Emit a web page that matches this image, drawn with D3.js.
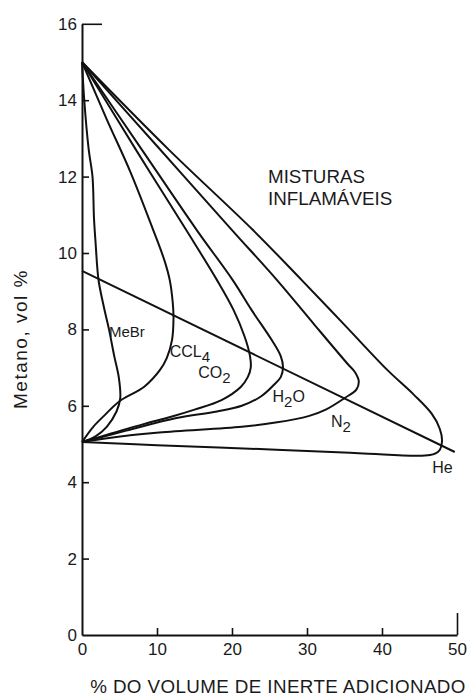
<!DOCTYPE html>
<html>
<head>
<meta charset="utf-8">
<script src="https://cdn.jsdelivr.net/npm/d3@7"></script>
<style>
  html, body { margin: 0; padding: 0; background: #fff; }
  text { font-family: "Liberation Sans", Arial, sans-serif; fill: #1a1a1a; }
</style>
</head>
<body>
<div id="chart"></div>
<script>
// flammability envelopes: [% inert added, methane vol %], apex -> nose -> lower limit
const meBr = [[0,15],[0.3,14.0],[0.9,12.7],[1.4,12.0],[1.6,10.9],[1.8,10.3],[2.2,9.3],[2.9,8.6],[3.6,8.0],[4.3,7.3],[4.9,6.75],[5.1,6.2],[4.6,5.85],[3.3,5.45],[1.8,5.2],[0,5.05]];
const ccl4 = [[0,15],[3.3,13.5],[6.5,12.1],[9.5,10.6],[11.0,9.8],[11.7,9.29],[12.1,8.7],[12.2,8.3],[12.0,7.72],[11.3,7.25],[10.4,6.94],[8.3,6.5],[5.0,6.12],[3.0,5.75],[1.5,5.45],[0,5.05]];
const co2 = [[0,15],[7.2,12.7],[13.9,10.6],[18.0,9.29],[20.2,8.51],[21.7,7.8],[22.4,7.3],[22.5,7.0],[22.1,6.75],[21.2,6.5],[18.6,6.15],[15.0,5.9],[12.0,5.72],[8.2,5.52],[4.0,5.28],[0,5.05]];
const h2o = [[0,15],[8,12.7],[15.3,10.6],[20.1,9.29],[22.6,8.51],[25.3,7.72],[26.5,7.3],[26.8,7.0],[26.5,6.75],[25.6,6.55],[23.9,6.25],[21.3,6.0],[18,5.85],[12.6,5.68],[5.9,5.35],[0,5.05]];
const n2 = [[0,15],[10,12.8],[20.0,10.6],[26.0,9.29],[31.0,8.12],[35.4,7.1],[36.4,6.88],[36.9,6.65],[36.6,6.43],[35.0,6.2],[32.5,5.9],[30.2,5.73],[25.8,5.56],[21.3,5.45],[10.3,5.3],[3.6,5.16],[0,5.05]];
const he = [[0,15],[11.6,12.7],[22.8,10.6],[29.3,9.29],[35.0,8.12],[40.7,6.94],[44.2,6.3],[46.6,5.8],[47.7,5.4],[48.0,5.08],[47.6,4.82],[46.4,4.71],[36.9,4.76],[25.9,4.85],[10,4.97],[0,5.05]];
// stoichiometric line
const stoich = [[0,9.53],[49.7,4.79]];

const xTicks = [0,10,20,30,40,50];
const yTicks = [0,2,4,6,8,10,12,14,16];

// curve labels: [main, subscript, after, x, y]
const curveLabels = [
  ["MeBr", "", "", 3.6, 7.8],
  ["CCL", "4", "", 11.7, 7.28],
  ["CO", "2", "", 15.5, 6.73],
  ["H", "2", "O", 25.4, 6.1],
  ["N", "2", "", 33.2, 5.45],
  ["He", "", "", 46.7, 4.24]
];

const width = 468, height = 696;

const svg = d3.select("#chart").append("svg")
  .attr("width", width)
  .attr("height", height);

svg.append("rect").attr("width", width).attr("height", height).attr("fill", "#fff");

const x = d3.scaleLinear().domain([0, 50]).range([82, 457]);
const y = d3.scaleLinear().domain([0, 16]).range([635, 23.8]);

// axes
const yAxis = d3.axisLeft(y).tickValues(yTicks).tickSizeInner(-7).tickSizeOuter(0).tickPadding(5);
const xAxis = d3.axisBottom(x).tickValues(xTicks).tickSizeInner(-7).tickSizeOuter(0).tickPadding(8);

const gy = svg.append("g").attr("transform", `translate(${x(0)},0)`).call(yAxis);
const gx = svg.append("g").attr("transform", `translate(0,${y(0)})`).call(xAxis);

[gx, gy].forEach(g => {
  g.select(".domain").attr("stroke", "#111").attr("stroke-width", 2);
  g.selectAll(".tick line").attr("stroke", "#111").attr("stroke-width", 1.6);
  g.selectAll(".tick text")
    .style("font-family", '"Liberation Sans", Arial, sans-serif')
    .style("font-size", "17px")
    .attr("fill", "#1a1a1a");
});
// end caps: long tick at 16 and 50, no tick at origin
gy.selectAll(".tick").filter(d => d === 16).select("line").attr("x2", 20);
gy.selectAll(".tick").filter(d => d === 0).select("line").remove();
gx.selectAll(".tick").filter(d => d === 50).select("line").attr("y2", -22);
gx.selectAll(".tick").filter(d => d === 0).select("line").remove();

// envelopes
const line = d3.line()
  .x(d => x(d[0]))
  .y(d => y(d[1]))
  .curve(d3.curveCatmullRom.alpha(0.5));

[meBr, ccl4, co2, h2o, n2, he].forEach(c => {
  svg.append("path")
    .datum(c)
    .attr("fill", "none")
    .attr("stroke", "#111")
    .attr("stroke-width", 2)
    .attr("stroke-linejoin", "round")
    .attr("d", line);
});

svg.append("path")
  .datum(stoich)
  .attr("fill", "none")
  .attr("stroke", "#111")
  .attr("stroke-width", 2)
  .attr("d", d3.line().x(d => x(d[0])).y(d => y(d[1])));

// curve labels
curveLabels.forEach(l => {
  const t = svg.append("text")
    .attr("x", x(l[3]))
    .attr("y", y(l[4]))
    .style("font-size", l[0] === "MeBr" ? "15px" : "16px");
  t.append("tspan").text(l[0]);
  if (l[1]) t.append("tspan").attr("dy", 5).style("font-size", "15px").text(l[1]);
  if (l[2]) t.append("tspan").attr("dy", -5).text(l[2]);
});

// region label
svg.append("text").attr("x", x(24.8)).attr("y", y(11.83))
  .style("font-size", "18.8px").text("MISTURAS");
svg.append("text").attr("x", x(24.8)).attr("y", y(11.26))
  .style("font-size", "18.8px").text("INFLAMÁVEIS");

// axis titles
svg.append("text")
  .attr("x", 278)
  .attr("y", 693)
  .attr("text-anchor", "middle")
  .style("font-size", "18.8px")
  .style("letter-spacing", "0.4px")
  .text("% DO VOLUME DE INERTE ADICIONADO");

svg.append("text")
  .attr("transform", "translate(27,339) rotate(-90)")
  .attr("text-anchor", "middle")
  .style("font-size", "19px")
  .style("letter-spacing", "1.5px")
  .text("Metano,  vol %");
</script>
</body>
</html>
